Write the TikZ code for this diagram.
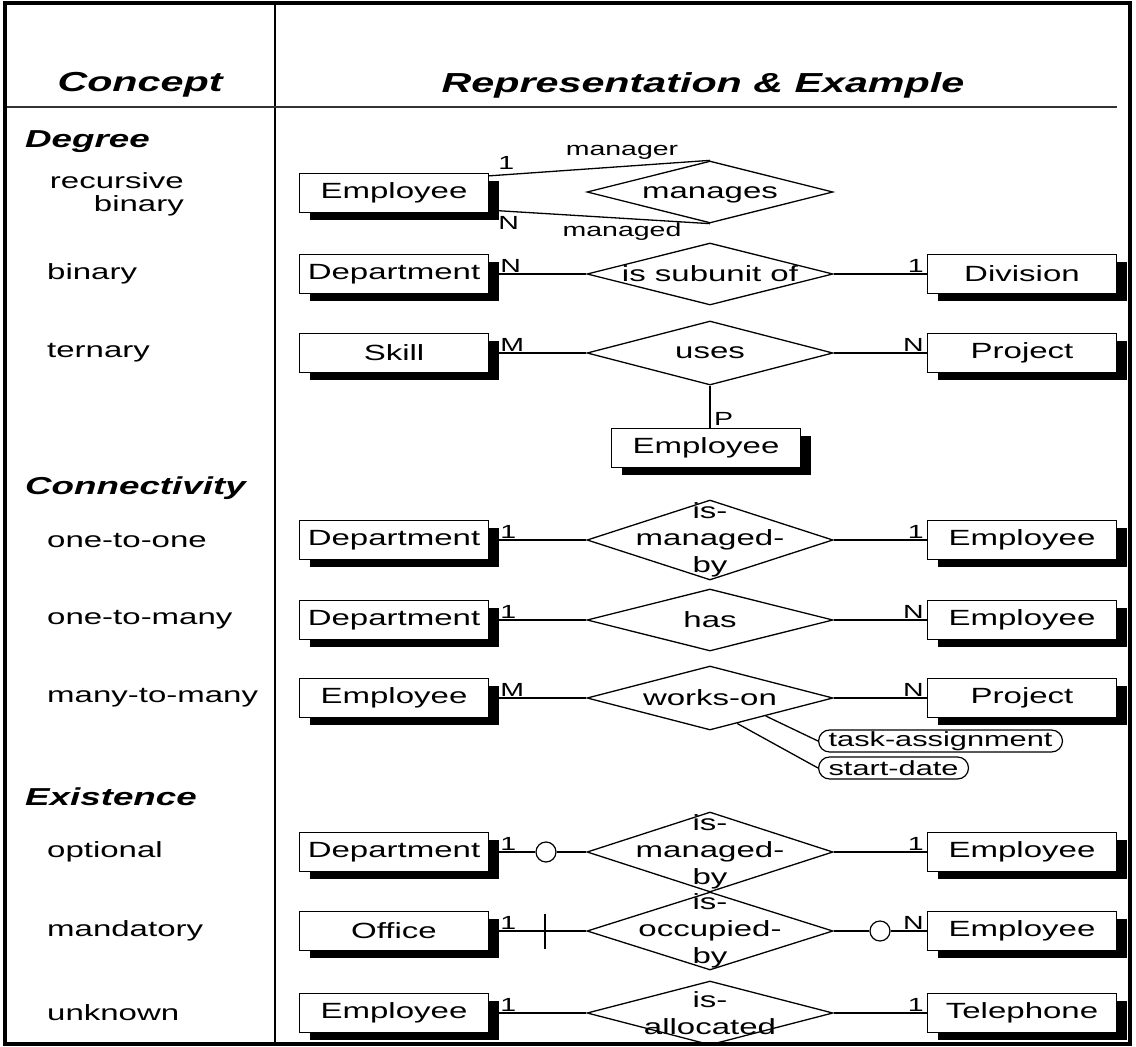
\documentclass[tikz,border=0pt]{standalone}
\usepackage{fontspec}
\setmainfont{Liberation Sans}[FakeStretch=1.5]
\usetikzlibrary{shapes.geometric,shadows,calc}

\tikzset{
  conn/.style={line width=1.3pt},
  ent/.style={draw, fill=white, line width=1.3pt, minimum width=189pt,
    minimum height=39pt, inner sep=0pt, font=\fontsize{22}{26}\selectfont,
    drop shadow={shadow xshift=10pt, shadow yshift=-7pt, fill=black, opacity=1}},
  rel/.style={draw, diamond, fill=white, line width=1.3pt, minimum width=246pt,
    minimum height=64pt, inner sep=0pt},
  rtxt/.style={inner sep=0pt, align=center, font=\fontsize{22}{27}\selectfont},
  card/.style={inner sep=0pt, font=\fontsize{19}{19}\selectfont},
  attr/.style={draw, fill=white, line width=1.2pt, rounded corners=11pt,
    minimum height=22pt, inner xsep=10pt, inner ysep=0pt,
    font=\fontsize{20.5}{22}\selectfont},
  opt/.style={draw, circle, fill=white, line width=1.2pt, minimum size=20pt, inner sep=0pt},
  lbl/.style={anchor=west, inner sep=0pt, font=\fontsize{22}{23}\selectfont},
  sect/.style={anchor=west, inner sep=0pt, font=\fontsize{24.5}{26}\selectfont\bfseries\itshape},
  hdr/.style={inner sep=0pt, font=\fontsize{27.5}{30}\selectfont\bfseries\itshape},
}

\begin{document}
\begin{tikzpicture}[x=1pt, y=-1pt]
\useasboundingbox (0,0) rectangle (1136,1047);

% table rules
\draw[line width=1.3pt] (275,3) -- (275,1044);
\draw[line width=2.2pt, black!80] (5,107) -- (1117,107);

% column headings
\node[hdr] (hc) at (140,85) {Concept};
\node[hdr] (hr) at (703,85) {Representation \& Example};

% concept column
\node[sect] (sdeg) at (25,142) {Degree};
\node[lbl, align=right, anchor=east] (lrec) at (184,194) {recursive\\binary};
\node[lbl] (lbin) at (47,274) {binary};
\node[lbl] (lter) at (47,353) {ternary};
\node[sect] (scon) at (25,488) {Connectivity};
\node[lbl] (l11) at (47,540) {one-to-one};
\node[lbl] (l1n) at (47,620) {one-to-many};
\node[lbl] (lmn) at (47,698) {many-to-many};
\node[sect] (sexi) at (25,797) {Existence};
\node[lbl] (lopt) at (47,852) {optional};
\node[lbl] (lman) at (47,931) {mandatory};
\node[lbl] (lunk) at (47,1013) {unknown};

% ---- recursive binary
\node[ent] (e1) at (394,193) {Employee};
\node[rel, minimum height=62pt] (r1) at (710,192) {};
\node[rtxt] (t1) at ($(r1)+(0,3)$) {manages};
\draw[conn] ($(e1.north east)+(0,3)$) -- (r1.north);
\draw[conn] ($(e1.south east)+(0,-3)$) -- (r1.south);
\node[card, anchor=south west] (c1a) at ($(e1.north east)+(9,-3)$) {1};
\node[card, anchor=north west] (c1b) at ($(e1.south east)+(9,3)$) {N};
\node[card] (n1a) at (622,152) {manager};
\node[card] (n1b) at (622,232) {managed};

% ---- binary
\node[ent] (e2) at (394,274) {Department};
\node[ent] (e3) at (1022,274) {Division};
\node[rel, minimum height=62pt] (r2) at (710,274) {};
\node[rtxt] (t2) at (r2) {is subunit of};
\draw[conn] (e2) -- (r2) -- (e3);
\node[card, anchor=south west] at ($(e2.east)+(11,-1)$) {N};
\node[card, anchor=south east] at ($(e3.west)+(-3,-1)$) {1};

% ---- ternary
\node[ent] (e4) at (394,353) {Skill};
\node[ent] (e5) at (1022,353) {Project};
\node[rel] (r3) at (710,353) {};
\node[rtxt] (t3) at (r3) {uses};
\node[ent] (e6) at (706,448) {Employee};
\draw[conn] (e4) -- (r3) -- (e5);
\draw[conn] (r3.south) -- (r3.south |- e6.north);
\node[card, anchor=south west] at ($(e4.east)+(11,-1)$) {M};
\node[card, anchor=south east] at ($(e5.west)+(-3,-1)$) {N};
\node[card, anchor=south west] at ($(r3.south |- e6.north)+(4,-2)$) {P};

% ---- one-to-one
\node[ent] (e7) at (394,540) {Department};
\node[ent] (e8) at (1022,540) {Employee};
\node[rel, minimum height=80pt] (r4) at (710,540) {};
\node[rtxt] (t4) at (r4) {is-\\managed-\\by};
\draw[conn] (e7) -- (r4) -- (e8);
\node[card, anchor=south west] at ($(e7.east)+(11,-1)$) {1};
\node[card, anchor=south east] at ($(e8.west)+(-3,-1)$) {1};

% ---- one-to-many
\node[ent] (e9) at (394,620) {Department};
\node[ent] (e10) at (1022,620) {Employee};
\node[rel, minimum height=62pt] (r5) at (710,620) {};
\node[rtxt] (t5) at (r5) {has};
\draw[conn] (e9) -- (r5) -- (e10);
\node[card, anchor=south west] at ($(e9.east)+(11,-1)$) {1};
\node[card, anchor=south east] at ($(e10.west)+(-3,-1)$) {N};

% ---- many-to-many
\node[ent] (e11) at (394,698) {Employee};
\node[ent] (e12) at (1022,698) {Project};
\node[rel] (r6) at (710,698) {};
\node[rtxt] (t6) at (r6) {works-on};
\draw[conn] (e11) -- (r6) -- (e12);
\node[card, anchor=south west] at ($(e11.east)+(11,-1)$) {M};
\node[card, anchor=south east] at ($(e12.west)+(-3,-1)$) {N};
\node[attr, anchor=west] (a1) at (818,741) {task-assignment};
\node[attr, anchor=west] (a2) at (818,768) {start-date};
\draw[conn] ($(r6.south)!0.45!(r6.east)$) -- (a1.west);
\draw[conn] ($(r6.south)!0.22!(r6.east)$) -- (a2.west);

% ---- optional
\node[ent] (e13) at (394,852) {Department};
\node[ent] (e14) at (1022,852) {Employee};
\node[rel, minimum height=80pt] (r7) at (710,852) {};
\node[rtxt] (t7) at (r7) {is-\\managed-\\by};
\node[opt] (o1) at (546,852) {};
\draw[conn] (e13) -- (o1) -- (r7) -- (e14);
\node[card, anchor=south west] at ($(e13.east)+(11,-1)$) {1};
\node[card, anchor=south east] at ($(e14.west)+(-3,-1)$) {1};

% ---- mandatory
\node[ent] (e15) at (394,931) {Office};
\node[ent] (e16) at (1022,931) {Employee};
\node[rel, minimum height=78pt] (r8) at (710,931) {};
\node[rtxt] (t8) at (r8) {is-\\occupied-\\by};
\node[opt] (o2) at (880,931) {};
\coordinate (k1) at (545,931);
\draw[conn] (e15) -- (r8) -- (o2) -- (e16);
\draw[conn] ($(k1)+(0,-17)$) -- ($(k1)+(0,18)$);
\node[card, anchor=south west] at ($(e15.east)+(11,-1)$) {1};
\node[card, anchor=south east] at ($(e16.west)+(-3,-1)$) {N};

% ---- unknown
\node[ent] (e17) at (394,1013) {Employee};
\node[ent] (e18) at (1022,1013) {Telephone};
\node[rel, minimum height=64pt] (r9) at (710,1013) {};
\node[rtxt] (t9) at (r9) {is-\\allocated};
\draw[conn] (e17) -- (r9) -- (e18);
\node[card, anchor=south west] at ($(e17.east)+(11,-1)$) {1};
\node[card, anchor=south east] at ($(e18.west)+(-3,-1)$) {1};

% outer frame
\draw[line width=3.5pt] (5,3) rectangle (1130,1044);
\end{tikzpicture}
\end{document}
